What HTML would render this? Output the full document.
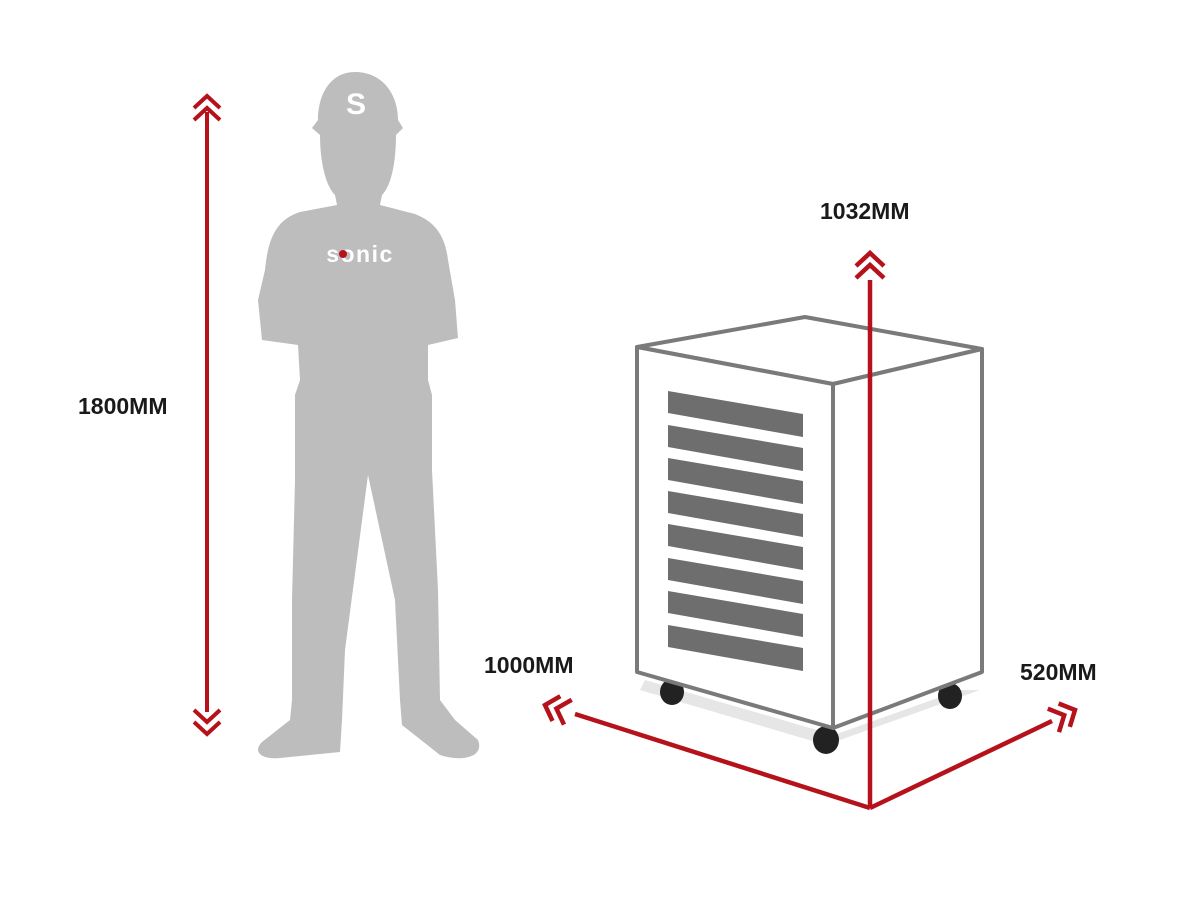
<!DOCTYPE html>
<html><head><meta charset="utf-8"><style>
html,body{margin:0;padding:0;background:#fff;width:1200px;height:916px;overflow:hidden}
svg{display:block}
.lbl{font-family:"Liberation Sans Narrow","Liberation Sans",sans-serif;font-weight:bold;font-size:23px;fill:#1a1a1a}
</style></head><body>
<svg width="1200" height="916" viewBox="0 0 1200 916" xmlns="http://www.w3.org/2000/svg">
<!-- person -->
<path fill="#bdbdbd" d="M355,72 C330,72 318,95 318,120 L312,128 L320,135 C320,160 325,185 335,195 L337,205 L300,212 C275,220 268,240 265,270 L258,300 L262,340 L298,345 L300,380 L295,395 L295,480 L292,600 L292,700 L290,720 L262,742 C252,752 262,760 280,758 L340,752 L342,720 L345,650 L368,475 L395,600 L400,700 L402,725 L440,755 C460,762 485,758 478,740 L455,720 L440,700 L438,590 L432,470 L432,395 L428,380 L428,345 L458,338 L455,300 L448,260 C445,235 435,222 415,214 L380,205 L382,195 C392,185 396,160 396,135 L403,128 L398,120 C398,95 383,72 355,72 Z"/>
<text x="356" y="114" text-anchor="middle" font-family="Liberation Sans,sans-serif" font-weight="bold" font-size="30" fill="#fff">S</text>
<text x="360" y="262" text-anchor="middle" font-family="Liberation Sans,sans-serif" font-weight="bold" font-size="23" fill="#fff" letter-spacing="1.5">sonic</text>
<circle cx="343" cy="254" r="4" fill="#b5121b"/>
<!-- person height -->
<g stroke="#b5121b" stroke-width="4" fill="none">
<line x1="207" y1="112" x2="207" y2="712"/>
<polyline points="194,108 207,96 220,108"/><polyline points="194,120 207,108 220,120"/>
<polyline points="194,710 207,722 220,710"/><polyline points="194,722 207,734 220,722"/>
</g>
<text class="lbl" x="78" y="414">1800MM</text>
<!-- cabinet shadow -->
<polygon points="640,690 826,745 980,690 960,690 834,735 645,680" fill="#e6e6e6"/>
<!-- wheels -->
<ellipse cx="672" cy="692" rx="12" ry="13" fill="#222"/>
<ellipse cx="950" cy="696" rx="12" ry="13" fill="#222"/>
<ellipse cx="826" cy="740" rx="13" ry="14" fill="#222"/>
<!-- cabinet -->
<g stroke="#7a7a7a" stroke-width="4" fill="#fff" stroke-linejoin="round">
<polygon points="637,347 805,317 982,349 833,384"/>
<polygon points="637,347 833,384 833,728 637,672"/>
<polygon points="833,384 982,349 982,672 833,728"/>
</g>
<g fill="#6e6e6e">
<polygon points="668,391 803,414 803,437 668,413"/>
<polygon points="668,425 803,448 803,471 668,447"/>
<polygon points="668,458 803,481 803,504 668,480"/>
<polygon points="668,491 803,514 803,537 668,513"/>
<polygon points="668,524 803,547 803,570 668,546"/>
<polygon points="668,558 803,581 803,604 668,580"/>
<polygon points="668,591 803,614 803,637 668,613"/>
<polygon points="668,625 803,648 803,671 668,647"/>
</g>
<!-- dims -->
<g stroke="#b5121b" stroke-width="4.5" fill="none">
<line x1="870" y1="280" x2="870" y2="808"/>
<polyline points="856,266 870,253 884,266"/><polyline points="856,278 870,265 884,278"/>
<polyline points="870,808 575,714"/>
<polyline points="552.5,721 545,705 560.3,696.2"/><polyline points="564,724.6 556.4,708.6 571.7,699.8"/>
<polyline points="870,808 1052,721"/>
<polyline points="1069.8,726.9 1075,710 1058.6,703.5"/><polyline points="1059,732.1 1064.2,715.2 1047.8,708.7"/>
</g>
<text class="lbl" x="820" y="219">1032MM</text>
<text class="lbl" x="484" y="673">1000MM</text>
<text class="lbl" x="1020" y="680">520MM</text>
</svg>
</body></html>
